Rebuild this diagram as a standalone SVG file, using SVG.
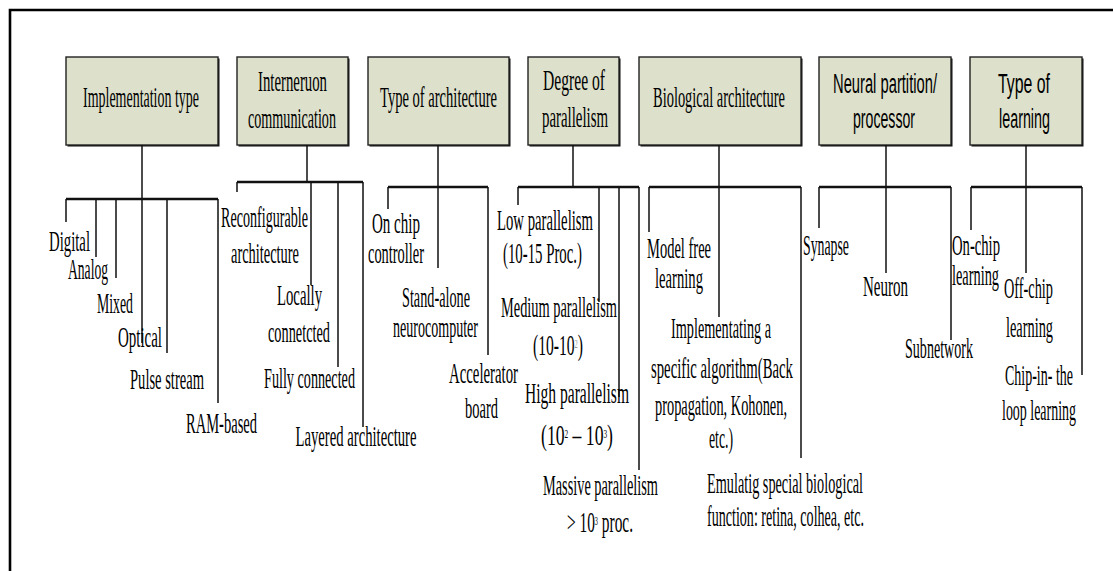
<svg xmlns="http://www.w3.org/2000/svg" width="1113" height="571" viewBox="0 0 1113 571">
<style>
.frame{stroke:#000;stroke-width:2.6;fill:none}
.box{fill:#dde0cb;stroke:#222;stroke-width:1.4}
.sh{fill:#111}
.c path{stroke:#111;fill:none;stroke-width:1.5}
.c path.bar{stroke-width:2.3}
text{font-family:"Liberation Serif","Times New Roman",serif;font-size:29px;fill:#000;text-anchor:middle}
text.s{font-family:"Liberation Sans",Arial,sans-serif;font-size:27px}
tspan.sup{font-size:12px}
</style>
<rect width="1113" height="571" fill="#fff"/>
<path class="frame" d="M10 571 V10 H1113"/>

<g id="n-impl"><rect class="sh" x="67.5" y="58.5" width="152" height="88"/><rect class="box" x="66" y="57" width="152" height="88"/><text x="141" y="107" textLength="116" lengthAdjust="spacingAndGlyphs">Implementation type</text></g>
<g id="n-inter"><rect class="sh" x="238.5" y="58.5" width="111" height="88"/><rect class="box" x="237" y="57" width="111" height="88"/><text x="292.5" y="91" textLength="69" lengthAdjust="spacingAndGlyphs">Interneruon</text><text x="292" y="128" textLength="88" lengthAdjust="spacingAndGlyphs">communication</text></g>
<g id="n-arch"><rect class="sh" x="369.5" y="58.5" width="141" height="88"/><rect class="box" x="368" y="57" width="141" height="88"/><text x="438.5" y="107" textLength="117" lengthAdjust="spacingAndGlyphs">Type of architecture</text></g>
<g id="n-par"><rect class="sh" x="529.5" y="58.5" width="91" height="88"/><rect class="box" x="528" y="57" width="91" height="88"/><text x="574" y="90" textLength="62" lengthAdjust="spacingAndGlyphs">Degree of</text><text x="575" y="127" textLength="66" lengthAdjust="spacingAndGlyphs">parallelism</text></g>
<g id="n-bio"><rect class="sh" x="640.5" y="58.5" width="162" height="88"/><rect class="box" x="639" y="57" width="162" height="88"/><text x="719" y="107" textLength="132" lengthAdjust="spacingAndGlyphs">Biological architecture</text></g>
<g id="n-neural"><rect class="sh" x="820.5" y="58.5" width="132" height="88"/><rect class="box" x="819" y="57" width="132" height="88"/><text class="s" x="885" y="93" textLength="104" lengthAdjust="spacingAndGlyphs">Neural partition/</text><text class="s" x="884" y="128" textLength="62" lengthAdjust="spacingAndGlyphs">processor</text></g>
<g id="n-learn"><rect class="sh" x="971.5" y="58.5" width="112" height="88"/><rect class="box" x="970" y="57" width="112" height="88"/><text class="s" x="1024" y="93" textLength="52" lengthAdjust="spacingAndGlyphs">Type of</text><text class="s" x="1024.5" y="128" textLength="51" lengthAdjust="spacingAndGlyphs">learning</text></g>

<g id="connectors" class="c">
<path d="M142 145 V343"/><path class="bar" d="M66 199 H218"/><path d="M66 199 V222 M96 199 V257 M116 199 V278 M167 199 V353 M218 199 V403"/>
<path d="M307 145 V182"/><path class="bar" d="M237 182 H363"/><path d="M237 182 V192 M311 182 V285 M338 182 V367 M363 182 V427"/>
<path d="M438 145 V268"/><path class="bar" d="M388 187 H488"/><path d="M388 187 V209 M488 187 V355"/>
<path d="M573 145 V187"/><path class="bar" d="M518 187 H639"/><path d="M518 187 V205 M599 187 V302 M619 187 V397 M639 187 V470"/>
<path d="M719 145 V317"/><path class="bar" d="M649 187 H801"/><path d="M649 187 V232 M801 187 V458"/>
<path d="M886 145 V273"/><path class="bar" d="M819 187 H951"/><path d="M819 187 V228 M951 187 V340"/>
<path d="M1026 145 V273"/><path class="bar" d="M971 187 H1082"/><path d="M971 187 V230 M1082 187 V375"/>
</g>

<g id="l-digital"><text x="69.5" y="251" textLength="41" lengthAdjust="spacingAndGlyphs">Digital</text></g>
<g id="l-analog"><text x="88" y="279" textLength="40" lengthAdjust="spacingAndGlyphs">Analog</text></g>
<g id="l-mixed"><text x="115" y="313" textLength="36" lengthAdjust="spacingAndGlyphs">Mixed</text></g>
<g id="l-optical"><text x="140" y="347" textLength="44" lengthAdjust="spacingAndGlyphs">Optical</text></g>
<g id="l-pulse"><text x="167" y="389" textLength="74" lengthAdjust="spacingAndGlyphs">Pulse stream</text></g>
<g id="l-ram"><text x="221.5" y="433" textLength="71" lengthAdjust="spacingAndGlyphs">RAM-based</text></g>

<g id="l-reconf"><text x="264.5" y="227" textLength="87" lengthAdjust="spacingAndGlyphs">Reconfigurable</text><text x="265" y="263" textLength="68" lengthAdjust="spacingAndGlyphs">architecture</text></g>
<g id="l-local"><text x="299.5" y="305" textLength="45" lengthAdjust="spacingAndGlyphs">Locally</text><text x="299" y="342" textLength="62" lengthAdjust="spacingAndGlyphs">connetcted</text></g>
<g id="l-fully"><text x="309.5" y="388" textLength="91" lengthAdjust="spacingAndGlyphs">Fully connected</text></g>
<g id="l-layered"><text x="356" y="446" textLength="121" lengthAdjust="spacingAndGlyphs">Layered architecture</text></g>

<g id="l-onchip"><text x="396" y="233" textLength="48" lengthAdjust="spacingAndGlyphs">On chip</text><text x="396" y="263" textLength="56" lengthAdjust="spacingAndGlyphs">controller</text></g>
<g id="l-standalone"><text x="436" y="307" textLength="68" lengthAdjust="spacingAndGlyphs">Stand-alone</text><text x="435.5" y="337" textLength="85" lengthAdjust="spacingAndGlyphs">neurocomputer</text></g>
<g id="l-accel"><text x="483.5" y="383" textLength="69" lengthAdjust="spacingAndGlyphs">Accelerator</text><text x="481.5" y="418" textLength="33" lengthAdjust="spacingAndGlyphs">board</text></g>

<g id="l-low"><text x="545" y="230" textLength="96" lengthAdjust="spacingAndGlyphs">Low parallelism</text><text x="542.5" y="263" textLength="79" lengthAdjust="spacingAndGlyphs">(10-15 Proc.)</text></g>
<g id="l-medium"><text x="559" y="317" textLength="116" lengthAdjust="spacingAndGlyphs">Medium parallelism</text><text x="558" y="355" textLength="50" lengthAdjust="spacingAndGlyphs">(10-10<tspan class="sup" baseline-shift="super" fill="#999">2</tspan>)</text></g>
<g id="l-high"><text x="577" y="403" textLength="104" lengthAdjust="spacingAndGlyphs">High parallelism</text><text x="577" y="445" textLength="72" lengthAdjust="spacingAndGlyphs">(10<tspan class="sup" baseline-shift="super">2</tspan> – 10<tspan class="sup" baseline-shift="super">3</tspan>)</text></g>
<g id="l-massive"><text x="600.5" y="495" textLength="115" lengthAdjust="spacingAndGlyphs">Massive parallelism</text><text x="600" y="532" textLength="66" lengthAdjust="spacingAndGlyphs">&gt; 10<tspan class="sup" baseline-shift="super">3</tspan> proc.</text></g>

<g id="l-model"><text x="679" y="258" textLength="64" lengthAdjust="spacingAndGlyphs">Model free</text><text x="679" y="288" textLength="48" lengthAdjust="spacingAndGlyphs">learning</text></g>
<g id="l-implalg"><text x="721" y="338" textLength="100" lengthAdjust="spacingAndGlyphs">Implementating a</text><text x="722" y="378" textLength="142" lengthAdjust="spacingAndGlyphs">specific algorithm(Back</text><text x="721" y="415" textLength="132" lengthAdjust="spacingAndGlyphs">propagation, Kohonen,</text><text x="721" y="448" textLength="24" lengthAdjust="spacingAndGlyphs">etc.)</text></g>
<g id="l-emul"><text x="785" y="493" textLength="156" lengthAdjust="spacingAndGlyphs">Emulatig special biological</text><text x="785.5" y="526" textLength="157" lengthAdjust="spacingAndGlyphs">function: retina, colhea, etc.</text></g>

<g id="l-synapse"><text x="826" y="255" textLength="46" lengthAdjust="spacingAndGlyphs">Synapse</text></g>
<g id="l-neuron"><text x="885.5" y="296" textLength="45" lengthAdjust="spacingAndGlyphs">Neuron</text></g>
<g id="l-subnet"><text x="939" y="358" textLength="68" lengthAdjust="spacingAndGlyphs">Subnetwork</text></g>

<g id="l-onchiplearn"><text x="976" y="255" textLength="48" lengthAdjust="spacingAndGlyphs">On-chip</text><text x="975.5" y="285" textLength="47" lengthAdjust="spacingAndGlyphs">learning</text></g>
<g id="l-offchip"><text x="1028.5" y="298" textLength="49" lengthAdjust="spacingAndGlyphs">Off-chip</text><text x="1029.5" y="337" textLength="47" lengthAdjust="spacingAndGlyphs">learning</text></g>
<g id="l-chipin"><text x="1039" y="385" textLength="68" lengthAdjust="spacingAndGlyphs">Chip-in- the</text><text x="1039" y="420" textLength="74" lengthAdjust="spacingAndGlyphs">loop learning</text></g>
</svg>
